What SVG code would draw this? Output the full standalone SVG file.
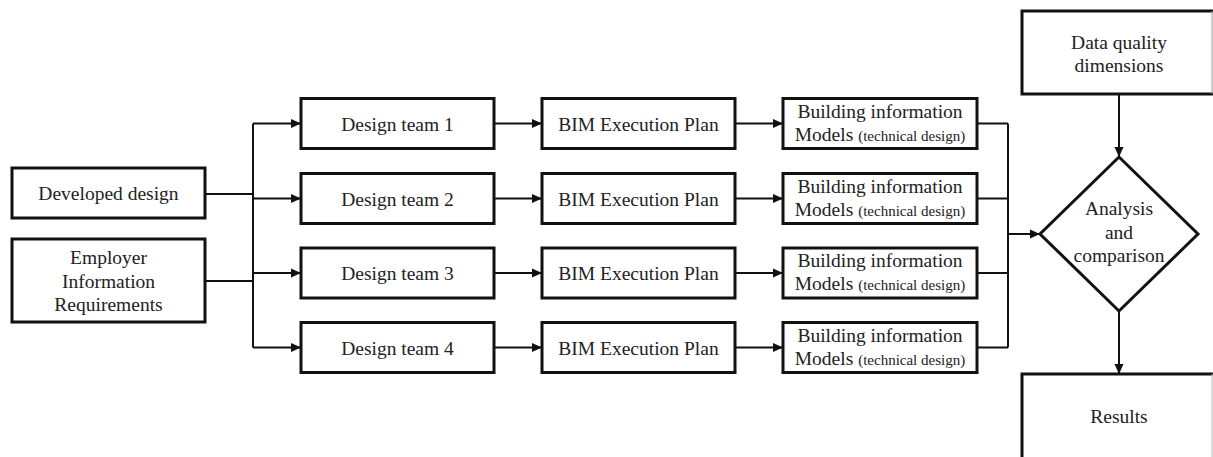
<svg xmlns="http://www.w3.org/2000/svg" width="1213" height="457" viewBox="0 0 1213 457">
  <style>
    .box { fill: #fff; stroke: #111; stroke-width: 3; }
    .edge { fill: none; stroke: #111; stroke-width: 2; }
    .t { font-family: "Liberation Serif", "Times New Roman", serif; font-size: 19.5px; fill: #222; text-anchor: middle; }
    .s { font-size: 15px; }
  </style>
  <defs>
    <marker id="arrow" markerWidth="10" markerHeight="10" refX="10" refY="5" orient="auto" markerUnits="userSpaceOnUse">
      <path d="M0,0.5 L10,5 L0,9.5 Z" fill="#111"/>
    </marker>
  </defs>
  <rect width="1213" height="457" fill="#fff"/>

  <!-- connectors -->
  <g id="connectors">
    <!-- inputs join a shared trunk -->
    <path class="edge" d="M205,194 H253"/>
    <path class="edge" d="M205,281 H253"/>
    <path class="edge" d="M253,123.5 V347.5"/>
    <path class="edge" d="M253,123.5 H301" marker-end="url(#arrow)"/>
    <path class="edge" d="M253,198.5 H301" marker-end="url(#arrow)"/>
    <path class="edge" d="M253,273 H301" marker-end="url(#arrow)"/>
    <path class="edge" d="M253,347.5 H301" marker-end="url(#arrow)"/>
    <!-- design team to execution plan -->
    <path class="edge" d="M494,123.5 H542" marker-end="url(#arrow)"/>
    <path class="edge" d="M494,198.5 H542" marker-end="url(#arrow)"/>
    <path class="edge" d="M494,273 H542" marker-end="url(#arrow)"/>
    <path class="edge" d="M494,347.5 H542" marker-end="url(#arrow)"/>
    <!-- execution plan to models -->
    <path class="edge" d="M735,123.5 H783" marker-end="url(#arrow)"/>
    <path class="edge" d="M735,198.5 H783" marker-end="url(#arrow)"/>
    <path class="edge" d="M735,273 H783" marker-end="url(#arrow)"/>
    <path class="edge" d="M735,347.5 H783" marker-end="url(#arrow)"/>
    <!-- models collected into analysis -->
    <path class="edge" d="M977,123.5 H1008 M977,198.5 H1008 M977,273 H1008 M977,347.5 H1008"/>
    <path class="edge" d="M1008,123.5 V347.5"/>
    <path class="edge" d="M1008,234 H1040" marker-end="url(#arrow)"/>
    <path class="edge" d="M1119,94 V157" marker-end="url(#arrow)"/>
    <path class="edge" d="M1119,311 V374" marker-end="url(#arrow)"/>
  </g>

  <g id="developed-design">
    <rect class="box" x="12" y="168" width="193" height="50"/>
    <text class="t" x="108.5" y="200">Developed design</text>
  </g>
  <g id="employer-requirements">
    <rect class="box" x="12" y="239" width="193" height="83"/>
    <text class="t" x="108.5" y="264">Employer</text>
    <text class="t" x="108.5" y="288">Information</text>
    <text class="t" x="108.5" y="311">Requirements</text>
  </g>

  <g id="design-team-1">
    <rect class="box" x="301" y="98.5" width="193" height="50"/>
    <text class="t" x="397.5" y="130.5">Design team 1</text>
  </g>
  <g id="design-team-2">
    <rect class="box" x="301" y="173.5" width="193" height="50"/>
    <text class="t" x="397.5" y="205.5">Design team 2</text>
  </g>
  <g id="design-team-3">
    <rect class="box" x="301" y="248" width="193" height="50"/>
    <text class="t" x="397.5" y="280">Design team 3</text>
  </g>
  <g id="design-team-4">
    <rect class="box" x="301" y="322.5" width="193" height="50"/>
    <text class="t" x="397.5" y="354.5">Design team 4</text>
  </g>

  <g id="bep-1">
    <rect class="box" x="542" y="98.5" width="193" height="50"/>
    <text class="t" x="638.5" y="130.5">BIM Execution Plan</text>
  </g>
  <g id="bep-2">
    <rect class="box" x="542" y="173.5" width="193" height="50"/>
    <text class="t" x="638.5" y="205.5">BIM Execution Plan</text>
  </g>
  <g id="bep-3">
    <rect class="box" x="542" y="248" width="193" height="50"/>
    <text class="t" x="638.5" y="280">BIM Execution Plan</text>
  </g>
  <g id="bep-4">
    <rect class="box" x="542" y="322.5" width="193" height="50"/>
    <text class="t" x="638.5" y="354.5">BIM Execution Plan</text>
  </g>

  <g id="bim-model-1">
    <rect class="box" x="783" y="98.5" width="194" height="50"/>
    <text class="t" x="880" y="117.5">Building information</text>
    <text class="t" x="880" y="140.5">Models <tspan class="s">(technical design)</tspan></text>
  </g>
  <g id="bim-model-2">
    <rect class="box" x="783" y="173.5" width="194" height="50"/>
    <text class="t" x="880" y="192.5">Building information</text>
    <text class="t" x="880" y="215.5">Models <tspan class="s">(technical design)</tspan></text>
  </g>
  <g id="bim-model-3">
    <rect class="box" x="783" y="248" width="194" height="50"/>
    <text class="t" x="880" y="267">Building information</text>
    <text class="t" x="880" y="290">Models <tspan class="s">(technical design)</tspan></text>
  </g>
  <g id="bim-model-4">
    <rect class="box" x="783" y="322.5" width="194" height="50"/>
    <text class="t" x="880" y="341.5">Building information</text>
    <text class="t" x="880" y="364.5">Models <tspan class="s">(technical design)</tspan></text>
  </g>

  <g id="data-quality">
    <rect class="box" x="1022" y="11" width="196" height="83"/>
    <line x1="1212" y1="11" x2="1212" y2="94" stroke="#999" stroke-width="1"/>
    <text class="t" x="1119" y="49">Data quality</text>
    <text class="t" x="1119" y="72">dimensions</text>
  </g>

  <g id="analysis">
    <polygon class="box" points="1119,157 1198,234 1119,311 1040,234"/>
    <text class="t" x="1119" y="215">Analysis</text>
    <text class="t" x="1119" y="239">and</text>
    <text class="t" x="1119" y="262">comparison</text>
  </g>

  <g id="results">
    <rect class="box" x="1022" y="374" width="196" height="90"/>
    <line x1="1212" y1="374" x2="1212" y2="457" stroke="#bbb" stroke-width="1"/>
    <text class="t" x="1119" y="423">Results</text>
  </g>
</svg>
